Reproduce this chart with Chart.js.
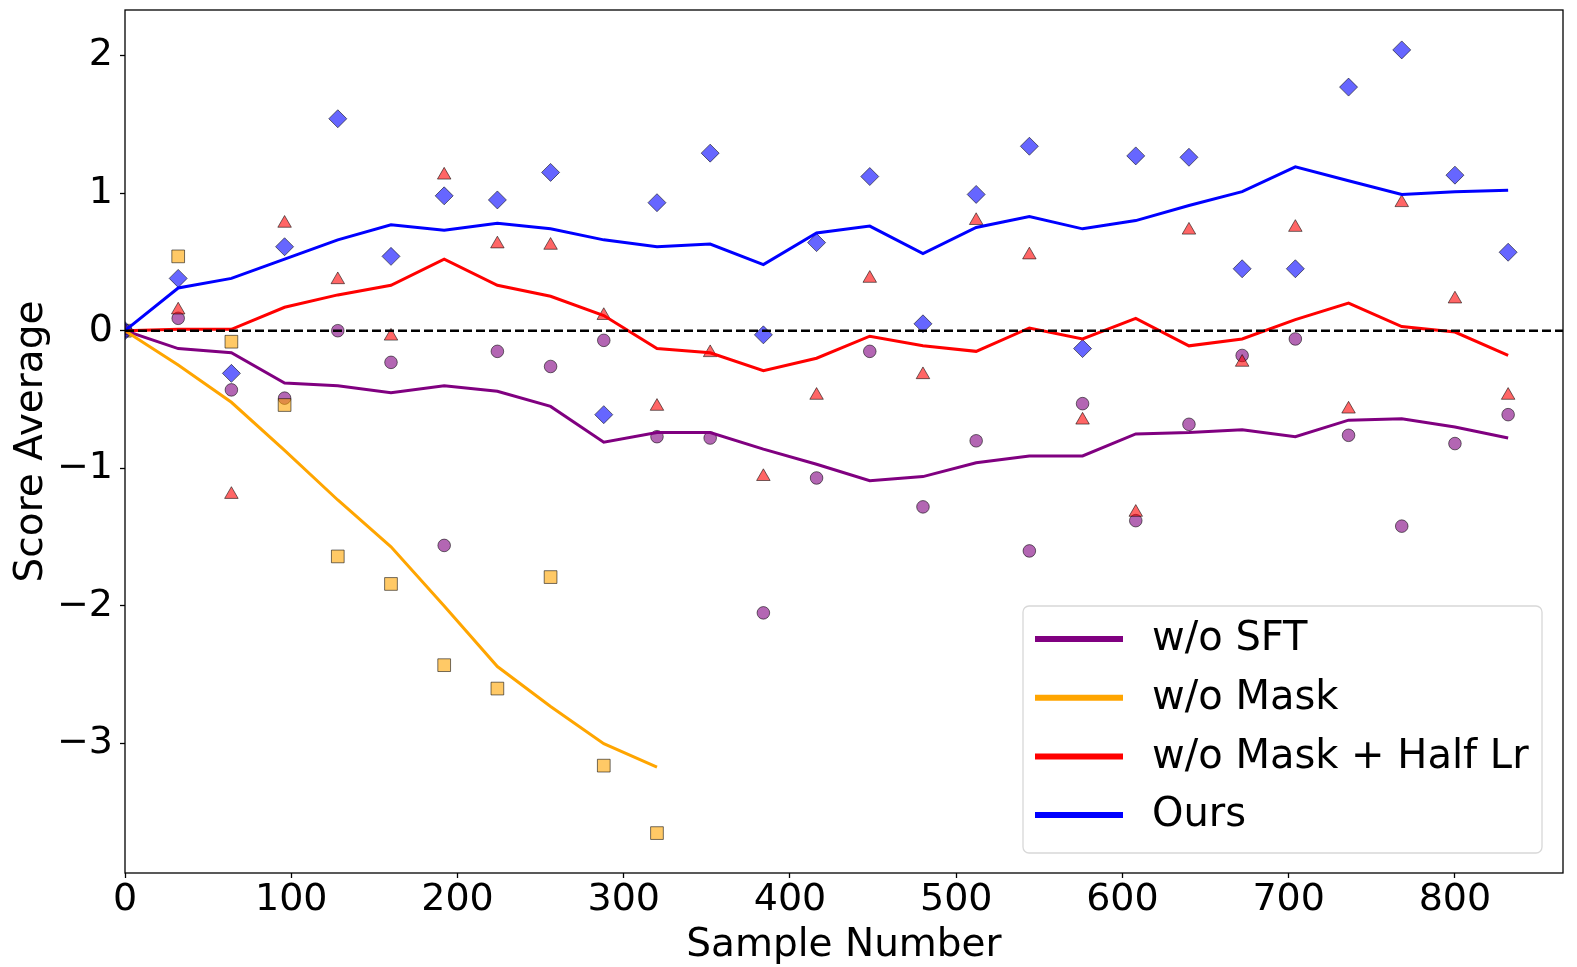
<!DOCTYPE html>
<html>
<head>
<meta charset="utf-8">
<title>Score Average vs Sample Number</title>
<script src="https://cdn.jsdelivr.net/npm/chart.js@4.4.1/dist/chart.umd.min.js"></script>
<style>
    html, body { margin: 0; padding: 0; background: #ffffff; }
    #wrap { width: 1577px; height: 967px; }
</style>
</head>
<body>
<div id="wrap"><canvas id="scoreChart"></canvas></div>
<script>
const sampleNumbers = [0, 32, 64, 96, 128, 160, 192, 224, 256, 288, 320, 352, 384, 416,
    448, 480, 512, 544, 576, 608, 640, 672, 704, 736, 768, 800, 832];

const xTickValues = [0, 100, 200, 300, 400, 500, 600, 700, 800];
const yTickValues = [-3, -2, -1, 0, 1, 2];

// w/o SFT
const sftScores = [0, 0.09, -0.43, -0.49, 0.0, -0.23, -1.56, -0.15, -0.26, -0.07, -0.77, -0.78, -2.05, -1.07,
    -0.15, -1.28, -0.80, -1.60, -0.53, -1.38, -0.68, -0.18, -0.06, -0.76, -1.42, -0.82, -0.61];
const sftAverage = [0, -0.13, -0.16, -0.38, -0.40, -0.45, -0.40, -0.44, -0.55, -0.81, -0.74, -0.74, -0.86, -0.97,
    -1.09, -1.06, -0.96, -0.91, -0.91, -0.75, -0.74, -0.72, -0.77, -0.65, -0.64, -0.70, -0.78];

// w/o Mask (stops at 320)
const maskScores = [0, 0.54, -0.08, -0.54, -1.64, -1.84, -2.43, -2.60, -1.79, -3.16, -3.65];
const maskAverage = [0, -0.25, -0.52, -0.87, -1.23, -1.57, -2.0, -2.44, -2.73, -3.0, -3.17];

// w/o Mask + Half Lr
const halfLrScores = [0, 0.15, -1.19, 0.78, 0.37, -0.04, 1.13, 0.63, 0.62, 0.11, -0.55, -0.16, -1.06, -0.47,
    0.38, -0.32, 0.80, 0.55, -0.65, -1.32, 0.73, -0.23, 0.75, -0.57, 0.93, 0.23, -0.47];
const halfLrAverage = [0, 0.01, 0.01, 0.17, 0.26, 0.33, 0.52, 0.33, 0.25, 0.11, -0.13, -0.16, -0.29, -0.20,
    -0.04, -0.11, -0.15, 0.02, -0.06, 0.09, -0.11, -0.06, 0.08, 0.20, 0.03, -0.01, -0.18];

// Ours
const oursScores = [0, 0.38, -0.31, 0.61, 1.54, 0.54, 0.98, 0.95, 1.15, -0.61, 0.93, 1.29, -0.03, 0.64,
    1.12, 0.05, 0.99, 1.34, -0.13, 1.27, 1.26, 0.45, 0.45, 1.77, 2.04, 1.13, 0.57];
const oursAverage = [0, 0.31, 0.38, 0.52, 0.66, 0.77, 0.73, 0.78, 0.74, 0.66, 0.61, 0.63, 0.48, 0.71,
    0.76, 0.56, 0.75, 0.83, 0.74, 0.80, 0.91, 1.01, 1.19, 1.09, 0.99, 1.01, 1.02];

const FONT = 'DejaVu Sans, sans-serif';

function toPoints(values) {
    return values.map((v, i) => ({ x: sampleNumbers[i], y: v }));
}

function scatterSet(values, style, radius, fill, order) {
    return {
        data: toPoints(values),
        showLine: false,
        pointStyle: style,
        pointRadius: radius,
        pointBackgroundColor: fill,
        pointBorderColor: 'rgba(0, 0, 0, 0.55)',
        pointBorderWidth: 1,
        order: order
    };
}

function lineSet(label, values, color, order) {
    return {
        label: label,
        inLegend: true,
        data: toPoints(values),
        borderColor: color,
        backgroundColor: color,
        borderWidth: 3,
        pointRadius: 0,
        tension: 0,
        fill: false,
        order: order
    };
}

function minusLabel(value) {
    return value < 0 ? '\u2212' + Math.abs(value) : String(value);
}

// scales reserve no extra room for half labels at their ends
function fixScaleSize(scale, size) {
    if (scale.isHorizontal()) {
        scale.height = size;
    } else {
        scale.width = size;
    }
    scale.paddingTop = 0;
    scale.paddingBottom = 0;
    scale.paddingLeft = 0;
    scale.paddingRight = 0;
}

// frame, zero line and the boxed legend inside the plot
const decorPlugin = {
    id: 'decor',
    afterDatasetsDraw(chart) {
        const ctx = chart.ctx;
        const area = chart.chartArea;
        const y0 = chart.scales.y.getPixelForValue(0);

        ctx.save();
        ctx.strokeStyle = '#000000';
        ctx.lineWidth = 2.5;
        ctx.setLineDash([9, 4]);
        ctx.beginPath();
        ctx.moveTo(area.left, y0);
        ctx.lineTo(area.right, y0);
        ctx.stroke();

        ctx.setLineDash([]);
        ctx.lineWidth = 1.3;
        ctx.strokeRect(area.left, area.top, area.right - area.left, area.bottom - area.top);
        ctx.restore();
    },
    afterDraw(chart) {
        const ctx = chart.ctx;
        const area = chart.chartArea;
        const items = chart.data.datasets.filter(ds => ds.inLegend);

        const boxW = 519, boxH = 247;
        const left = area.right - 21 - boxW;
        const top = area.bottom - 20 - boxH;

        ctx.save();
        ctx.beginPath();
        ctx.roundRect(left, top, boxW, boxH, 6);
        ctx.fillStyle = 'rgba(255, 255, 255, 0.85)';
        ctx.fill();
        ctx.strokeStyle = '#d8d8d8';
        ctx.lineWidth = 1.3;
        ctx.stroke();

        ctx.font = '40px ' + FONT;
        ctx.textBaseline = 'middle';
        ctx.textAlign = 'left';
        items.forEach((ds, i) => {
            const rowY = top + 33 + i * 58.7;
            ctx.strokeStyle = ds.borderColor;
            ctx.lineWidth = 6;
            ctx.beginPath();
            ctx.moveTo(left + 12, rowY);
            ctx.lineTo(left + 100, rowY);
            ctx.stroke();
            ctx.fillStyle = '#000000';
            ctx.fillText(ds.label, left + 129, rowY + 1);
        });
        ctx.restore();
    }
};

function initScoreChart() {
    const canvas = document.getElementById('scoreChart');
    if (!canvas) return;

    new Chart(canvas, {
        type: 'line',
        data: {
            datasets: [
                scatterSet(sftScores, 'circle', 6.3, 'rgba(128, 0, 128, 0.6)', 8),
                scatterSet(maskScores, 'rect', 9, 'rgba(255, 165, 0, 0.6)', 7),
                scatterSet(halfLrScores, 'triangle', 7.8, 'rgba(255, 0, 0, 0.6)', 6),
                scatterSet(oursScores, 'rectRot', 9, 'rgba(0, 0, 255, 0.6)', 5),
                lineSet('w/o SFT', sftAverage, '#800080', 4),
                lineSet('w/o Mask', maskAverage, '#ffa500', 3),
                lineSet('w/o Mask + Half Lr', halfLrAverage, '#ff0000', 2),
                lineSet('Ours', oursAverage, '#0000ff', 1)
            ]
        },
        options: {
            responsive: true,
            maintainAspectRatio: false,
            animation: false,
            events: [],
            layout: { padding: { top: 10, right: 14, left: 0, bottom: 0 } },
            plugins: {
                legend: { display: false },
                tooltip: { enabled: false }
            },
            scales: {
                x: {
                    type: 'linear',
                    min: 0,
                    max: 865,
                    afterBuildTicks: scale => { scale.ticks = xTickValues.map(v => ({ value: v })); },
                    afterFit: scale => fixScaleSize(scale, 94),
                    border: { display: false },
                    grid: {
                        drawOnChartArea: false,
                        drawTicks: true,
                        tickLength: 5,
                        tickWidth: 1.3,
                        tickColor: '#000000'
                    },
                    ticks: {
                        color: '#000000',
                        font: { family: FONT, size: 38, lineHeight: 1 },
                        padding: 3,
                        maxRotation: 0,
                        autoSkip: false
                    },
                    title: {
                        display: true,
                        text: 'Sample Number',
                        color: '#000000',
                        font: { family: FONT, size: 39, lineHeight: 1 },
                        padding: { top: 0, bottom: 2 }
                    }
                },
                y: {
                    type: 'linear',
                    min: -3.94,
                    max: 2.33,
                    afterBuildTicks: scale => { scale.ticks = yTickValues.map(v => ({ value: v })); },
                    afterFit: scale => fixScaleSize(scale, 125),
                    border: { display: false },
                    grid: {
                        drawOnChartArea: false,
                        drawTicks: true,
                        tickLength: 5,
                        tickWidth: 1.3,
                        tickColor: '#000000'
                    },
                    ticks: {
                        color: '#000000',
                        font: { family: FONT, size: 38, lineHeight: 1 },
                        padding: 7,
                        callback: minusLabel
                    },
                    title: {
                        display: true,
                        text: 'Score Average',
                        color: '#000000',
                        font: { family: FONT, size: 39, lineHeight: 1 },
                        padding: { top: 12, bottom: 0 }
                    }
                }
            }
        },
        plugins: [decorPlugin]
    });
}

document.addEventListener('DOMContentLoaded', function() {
    initScoreChart();
});
</script>
</body>
</html>
